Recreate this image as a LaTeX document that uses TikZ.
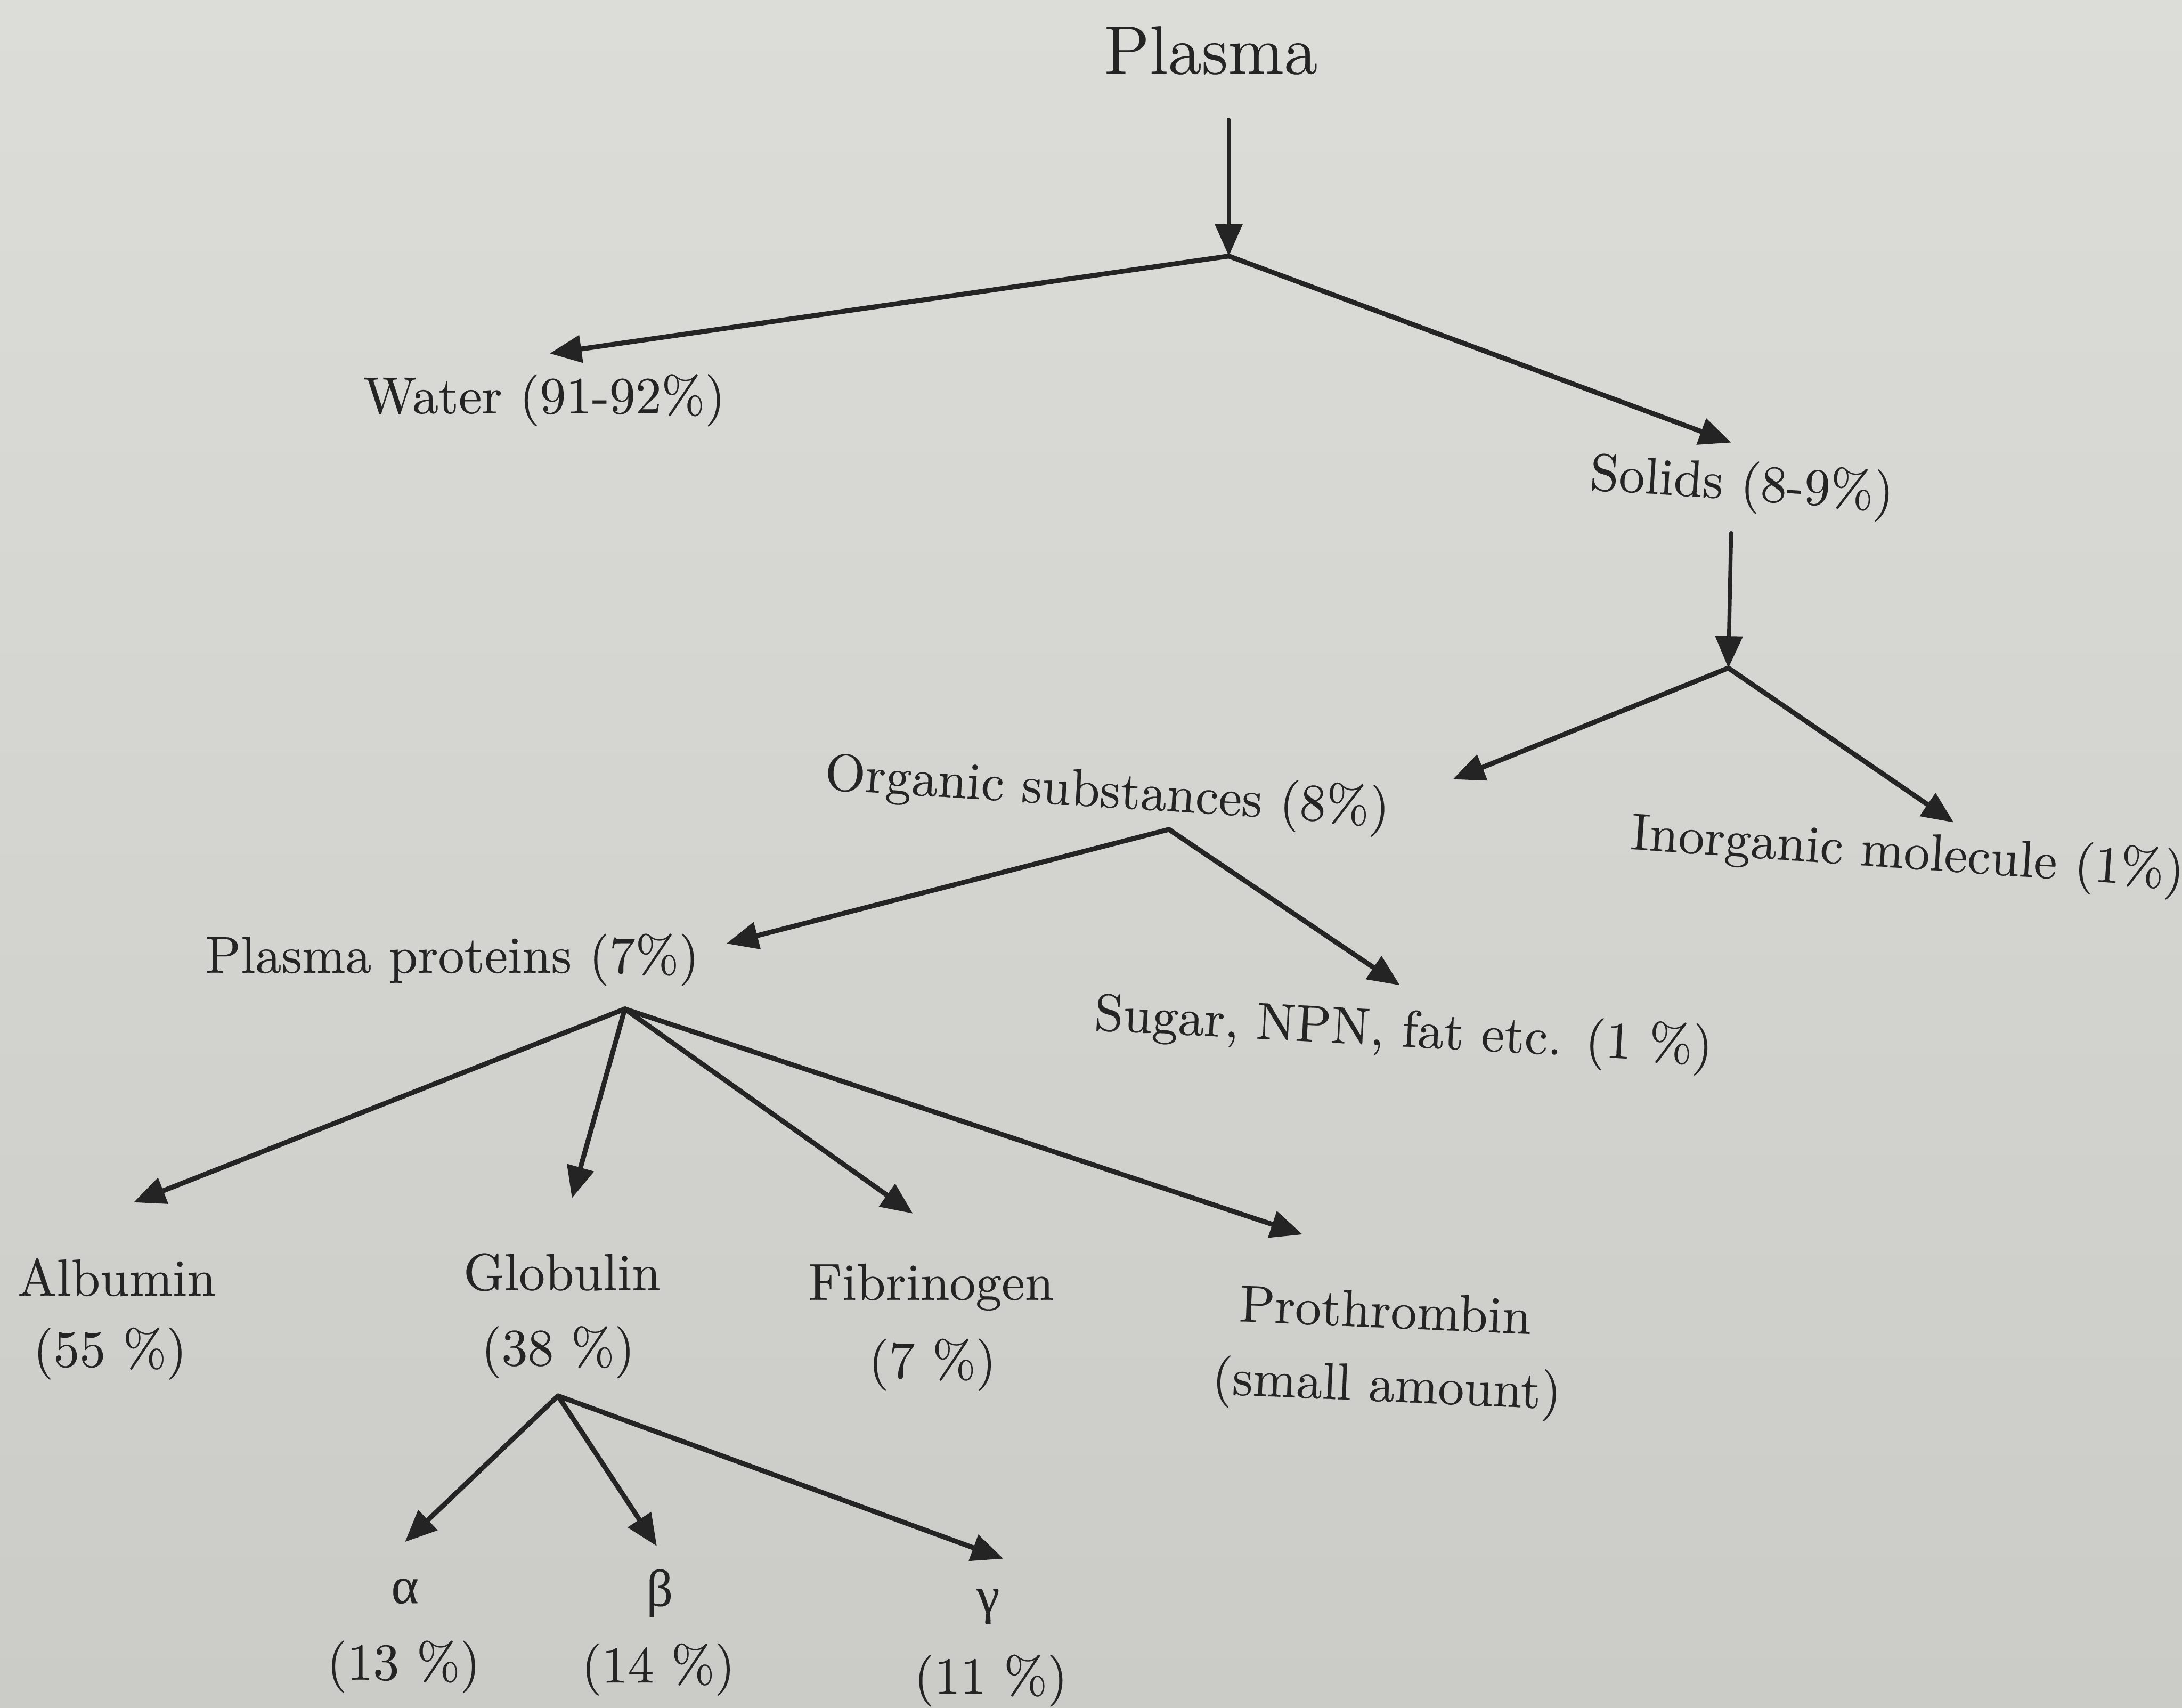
\documentclass[tikz,border=0pt]{standalone}
\usepackage{fontspec}
\newfontfamily\lmfont{Latin Modern Roman}[FakeBold=0.25]
\newfontfamily\grk{Liberation Serif}[FakeBold=0.1]
\usetikzlibrary{arrows.meta}
\definecolor{paper}{RGB}{220,220,216}
\definecolor{paperdark}{RGB}{203,203,200}
\definecolor{ink}{RGB}{36,36,36}
\begin{document}
\begin{tikzpicture}[x=0.01cm,y=-0.01cm,
  lbl/.style={font=\lmfont\fontsize{10.65}{12}\selectfont, text=ink, inner sep=0pt, anchor=base},
  arr/.style={draw=ink, line width=1pt, line cap=round, -{Triangle[length=6.5pt,width=5.5pt]}}]
\shade[top color=paper, bottom color=paperdark] (0,0) rectangle (1568,1227);
\path[use as bounding box] (0,0) rectangle (1568,1227);

% labels
\node[lbl, font=\lmfont\fontsize{14}{16}\selectfont] (plasma) at (870,53) {Plasma};
\node[lbl] (water) at (391,297) {Water (91-92\%)};
\node[lbl, rotate=-3.8] (solids) at (1251,359) {Solids (8-9\%)};
\node[lbl, rotate=-3.6] (organic) at (795,580) {Organic substances (8\%)};
\node[lbl, rotate=-4] (inorg) at (1370,624) {Inorganic molecule (1\%)};
\node[lbl] (pp) at (325,699) {Plasma proteins (7\%)};
\node[lbl, rotate=-3.1] (sugar) at (1008,752) {Sugar, NPN, fat etc. (1 \%)};
\node[lbl] (alb) at (84,931) {Albumin};
\node[lbl] (albp) at (79,982) {(55 \%)};
\node[lbl] (glob) at (404,927) {Globulin};
\node[lbl] (globp) at (401,981) {(38 \%)};
\node[lbl] (fib) at (669,934) {Fibrinogen};
\node[lbl] (fibp) at (670,990) {(7 \%)};
\node[lbl, rotate=-2.5] (pro) at (995,954) {Prothrombin};
\node[lbl, rotate=-2.5] (prop) at (996,1007) {(small amount)};
\node[lbl] (alpha) at (291,1152) {\grk α};
\node[lbl] (alphap) at (290,1207) {(13 \%)};
\node[lbl] (beta) at (474,1154) {\grk β};
\node[lbl] (betap) at (473,1209) {(14 \%)};
\node[lbl] (gamma) at (710,1159) {\grk γ};
\node[lbl] (gammap) at (712,1217) {(11 \%)};

% junctions and arrow ends
\coordinate (a0) at (883,86);
\coordinate (j1) at (883,184);
\coordinate (tw) at (395,254);
\coordinate (ts) at (1244,318);
\coordinate (s0) at (1244,383);
\coordinate (j2) at (1242,480);
\coordinate (to) at (1044,560);
\coordinate (ti) at (1404,591);
\coordinate (j3) at (840,596);
\coordinate (tpp) at (522,678);
\coordinate (tsu) at (1006,708);
\coordinate (j4) at (449,725);
\coordinate (tal) at (96,864);
\coordinate (tgl) at (411,861);
\coordinate (tfi) at (656,872);
\coordinate (tpr) at (936,887);
\coordinate (j5) at (401,1003);
\coordinate (tal2) at (291,1108);
\coordinate (tbe) at (472,1111);
\coordinate (tga) at (721,1120);

% connectors
\draw[arr, line width=0.8pt] (a0) -- (j1);
\draw[arr] (j1) -- (tw);
\draw[arr] (j1) -- (ts);
\draw[arr, line width=0.8pt] (s0) -- (j2);
\draw[arr] (j2) -- (to);
\draw[arr] (j2) -- (ti);
\draw[arr] (j3) -- (tpp);
\draw[arr] (j3) -- (tsu);
\draw[arr] (j4) -- (tal);
\draw[arr] (j4) -- (tgl);
\draw[arr] (j4) -- (tfi);
\draw[arr] (j4) -- (tpr);
\draw[arr] (j5) -- (tal2);
\draw[arr] (j5) -- (tbe);
\draw[arr] (j5) -- (tga);
\end{tikzpicture}
\end{document}
